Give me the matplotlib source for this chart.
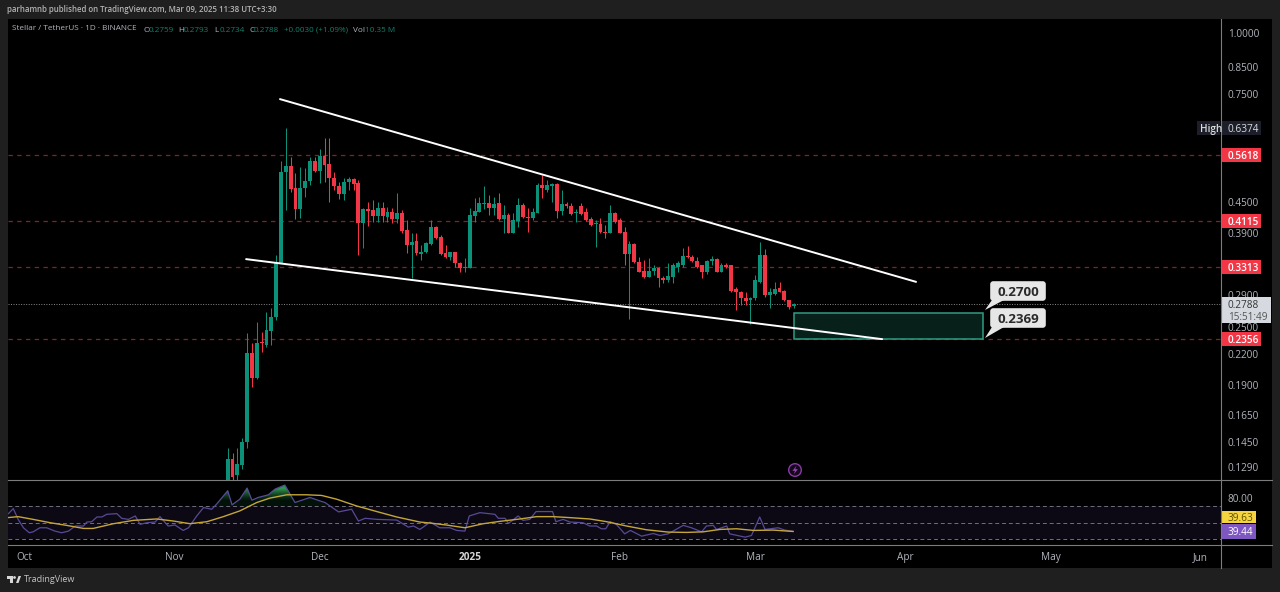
import numpy as np
import matplotlib
matplotlib.use("Agg")
import matplotlib.pyplot as plt
from matplotlib.patches import Rectangle, FancyBboxPatch, Polygon, Circle
from matplotlib.path import Path
from matplotlib.ticker import NullLocator

plt.rcParams['font.family'] = ['Open Sans', 'DejaVu Sans']

# ---------- data ----------
first_candle_day = 42   # days since Oct 1 (Nov 12)
opens = [.121,.134,.124,.130,.145,.221,.196,.233,.2295,.2455,.2622,.338,.519,.534,.481,.436,.481,.498,.546,.522,
         .560,.539,.505,.486,.468,.495,.502,.493,.408,.436,.434,.422,.438,.420,.430,.416,.428,.395,.368,.375,
         .353,.356,.370,.400,.382,.354,.348,.356,.337,.330,.330,.422,.430,.446,.448,.438,.448,.416,.424,.389,
         .412,.444,.420,.418,.428,.488,.477,.486,.491,.432,.446,.442,.428,.442,.430,.416,.406,.406,.391,.389,
         .428,.414,.391,.353,.370,.340,.326,.316,.326,.330,.315,.312,.316,.332,.335,.349,.348,.341,.334,.323,
         .341,.344,.324,.334,.334,.299,.295,.287,.283,.286,.309,.351,.291,.292,.300,.296,.283,.2759]
highs = [.141,.1375,.141,.148,.243,.232,.2555,.244,.2685,.273,.351,.546,.639,.557,.517,.531,.529,.557,.557,.578,
         .609,.609,.519,.495,.505,.507,.505,.500,.438,.451,.455,.451,.451,.440,.438,.470,.434,.414,.389,.389,
         .368,.373,.414,.402,.386,.368,.356,.356,.340,.346,.438,.459,.461,.486,.466,.461,.470,.444,.428,.428,
         .459,.448,.438,.438,.493,.512,.500,.493,.493,.477,.451,.448,.436,.448,.438,.420,.414,.418,.404,.444,
         .430,.418,.400,.375,.372,.348,.343,.346,.335,.332,.318,.338,.338,.341,.363,.366,.351,.348,.335,.343,
         .349,.346,.338,.337,.335,.302,.296,.294,.288,.319,.373,.361,.300,.309,.309,.298,.284,.2793]
lows = [.121,.121,.121,.128,.141,.188,.195,.222,.227,.2295,.258,.338,.434,.472,.416,.418,.461,.488,.519,.493,
        .495,.451,.477,.457,.455,.477,.477,.351,.363,.402,.410,.410,.410,.410,.408,.408,.389,.354,.315,.351,
        .343,.354,.368,.379,.351,.346,.343,.332,.323,.323,.330,.410,.430,.436,.424,.424,.414,.389,.389,.389,
        .400,.418,.391,.414,.428,.459,.472,.451,.418,.424,.438,.424,.410,.424,.412,.402,.365,.389,.380,.389,
        .408,.389,.335,.2595,.338,.323,.314,.316,.319,.302,.308,.309,.308,.323,.332,.346,.340,.330,.315,.321,
        .335,.323,.324,.330,.295,.271,.277,.277,.2535,.284,.308,.288,.273,.290,.294,.282,.272,.2734]
closes = [.134,.123,.131,.145,.221,.196,.232,.232,.2465,.2622,.338,.519,.534,.479,.436,.481,.498,.546,.522,.560,
          .5365,.505,.486,.468,.495,.502,.491,.408,.436,.432,.422,.438,.422,.430,.416,.428,.393,.368,.373,.354,
          .356,.372,.400,.380,.353,.348,.356,.337,.330,.332,.424,.432,.448,.448,.438,.446,.416,.424,.389,.414,
          .444,.420,.418,.430,.488,.481,.488,.491,.432,.446,.442,.426,.430,.426,.414,.404,.408,.391,.389,.428,
          .410,.389,.353,.370,.340,.324,.316,.326,.330,.314,.312,.318,.334,.337,.349,.348,.341,.332,.323,.341,
          .344,.324,.334,.332,.296,.294,.286,.282,.287,.311,.351,.291,.295,.299,.295,.283,.2745,.2788]

rsi_days = [-3.3,-2.3,-1.3,-.2,1,1.8,3.2,4.6,6.3,7.7,9.1,10.5,12.2,12.9,13.9,15,16,17,19.1,20.1,21.5,22.9,23.9,25.3,27,28,
            29.7,31.1,32.8,33.9,35.6,37,38.7,39.7,42,42.9,44.5,46,47,48.3,50.4,51.8,53.8,55.9,59,61,62.1,64.9,67.6,69,
            70.4,72.8,76.9,79.3,80.4,81.7,82.7,83.8,85.8,87.9,89.3,91,91.9,94.1,97.2,97.9,99.3,100,102,103,104.4,105.7,
            109.1,109.8,111.3,112.7,115.4,116.8,118.2,119.2,120.1,121,122.3,124,125.2,127.5,129.9,131.3,133,136.1,137.8,
            139.9,140.9,142.3,143,145.1,145.7,148.9,150.2,151.9,153,155.7,157.1,158.8]
rsi_vals = [60.9,67,54,43.9,37.9,39,43.9,43.9,39.9,37.9,39.9,46,46,50.8,51.2,56.9,56.9,60.1,60.9,55.3,54,58.1,48,50,50.8,57.3,
            46,47.2,40.7,43.9,58.1,68.2,66.2,72.3,88.5,71.5,78.3,91.7,77.1,80.4,83.6,90.5,95.3,74.3,80.4,76.3,74.3,63,66.2,52,
            55.3,54,53.2,44.7,46,41.9,46,50.8,43.9,43.9,40.7,39.9,58.1,62.1,60.1,55.3,55.3,49.2,58.1,52.8,54,63.4,
            63.4,51.2,54,50.8,50,46,46,42.7,42.7,51.2,48,36.6,40.7,33.8,37,34.6,36.6,46.8,43.9,
            39,46,46.8,41.9,46,36.6,32.6,34.6,56.9,41.9,43.9,41.1,39.63]
ma_days = [-3.5,-1.3,1.8,5.3,8.7,12.2,14.2,18.4,22.5,27.3,30.8,34.2,37.7,41.1,44.5,48,50.7,54.2,58.3,61.4,64.5,68.6,72.8,76.9,81.7,
           83.8,87.2,91,94.8,98.2,102.4,105.8,109.2,112.7,116.8,120.3,124.4,128.5,133,136.8,140.2,143.7,147.1,150.6,154.7,158.8]
ma_vals = [56.1,57.3,54,50,46.8,43.1,43.1,48.8,52.8,54.5,52,48.8,51.2,57.3,64.2,74.3,79.6,83.6,83.6,82.8,78.3,70.2,63.4,56.9,50.8,
           49.6,47.2,43.9,48.8,51.6,54.5,57.3,57.3,56.1,54.5,51.2,46,41.5,38.7,38.3,39,41.9,42.7,40.7,41.1,39.44]

price_ticks = [1.0, .85, .75, .45, .39, .29, .25, .22, .19, .165, .145, .129]
level_prices = [.5618, .4115, .3313, .2356]
last_price = .2788
high_price = .6374
upper_line_days = [52.8, 184.2]
upper_line_prices = [.732, .309]
lower_line_days = [45.8, 177.2]
lower_line_prices = [.344, .2358]
zone_days = [159, 198.1]
zone_prices = [.2360, .2668]
month_days = [0, 31, 61, 92, 123, 151, 182, 212, 243]
month_labels = ['Oct', 'Nov', 'Dec', '2025', 'Feb', 'Mar', 'Apr', 'May', 'Jun']

UP, DN = '#0b9079', '#f23645'
TXT = '#b2b5be'
W, H = 1280, 592
FS = 7.2

# ---------- figure ----------
fig = plt.figure(figsize=(W/100, H/100), dpi=100, facecolor='#1f1f1f')
fig.add_artist(Rectangle((8/W, 1-567.5/H), (1271.5-8)/W, (567.5-19)/H, transform=fig.transFigure,
                         facecolor='black', edgecolor='none', zorder=-5))
ax = fig.add_axes([8/W, 1-479.5/H, (1221-8)/W, (479.5-19)/H], facecolor='black')
rs = fig.add_axes([8/W, 1-545.3/H, (1221-8)/W, (545.3-479.5)/H], facecolor='black')
xlim = (-3.39, 247.2)

# ---------- price pane ----------
ax.set_yscale('log')
o, h, l, c = map(np.array, (opens, highs, lows, closes))
days = first_candle_day + np.arange(len(o))
col = np.where(c >= o, UP, DN)
ax.vlines(days, l, h, colors=col, linewidth=0.75, zorder=3)
ax.bar(days, np.maximum(np.abs(c-o), 1e-4), bottom=np.minimum(o, c), width=0.8, color=col, linewidth=0, zorder=4)
for p in level_prices:
    ax.plot(xlim, [p, p], color='#85202d', lw=0.9, dashes=(3.5, 3.5), zorder=1)
ax.plot(xlim, [last_price]*2, color='#8a8a8a', lw=0.7, dashes=(1, 1.6), zorder=1)
ax.plot(upper_line_days, upper_line_prices, color='white', lw=1.4, zorder=5, solid_capstyle='round')
ax.plot(lower_line_days, lower_line_prices, color='white', lw=1.4, zorder=5, solid_capstyle='round')
ax.add_patch(Rectangle((zone_days[0], zone_prices[0]), zone_days[1]-zone_days[0], zone_prices[1]-zone_prices[0],
                       facecolor='#07201a', edgecolor='#2f9c84', lw=1.1, zorder=2))
ax.set_xlim(*xlim)
ax.set_ylim(np.exp(-(479.5-33)/211.9), np.exp((33-19)/211.9))
ax.yaxis.tick_right()
ax.yaxis.set_major_locator(plt.FixedLocator(price_ticks))
ax.yaxis.set_minor_locator(NullLocator())
ax.set_yticklabels([f'{p:.4f}' for p in price_ticks])
ax.tick_params(axis='y', length=0, pad=5, labelsize=FS, labelcolor=TXT)
for t in ax.get_yticklabels():
    t.set_va('center_baseline')
ax.set_xticks([])
for s in ax.spines.values():
    s.set_visible(False)

# ---------- RSI pane ----------
rs.axhspan(30, 70, color='#0c0914', lw=0, zorder=0)
for v in (70, 50, 30):
    rs.plot(xlim, [v, v], color='#6f7079', lw=0.7, dashes=(4, 3), zorder=1)
rd, rv = np.array(rsi_days), np.array(rsi_vals)
poly = rs.fill_between(rd, 70, rv, where=rv > 70, interpolate=True, facecolor='none', edgecolor='none')
grad = np.array([[[0.05, 0.30, 0.15, 0.25]], [[0.20, 0.62, 0.32, 0.95]]])
im = rs.imshow(grad, extent=(rd[0], rd[-1], 70, 97), origin='lower', aspect='auto', interpolation='bilinear', zorder=2)
im.set_clip_path(Path.make_compound_path(*poly.get_paths()), transform=rs.transData)
rs.plot(rd, rv, color='#574a96', lw=0.9, zorder=3)
rs.plot(ma_days, ma_vals, color='#c4a63a', lw=1.0, zorder=4)
rs.set_xlim(*xlim)
rs.set_ylim(22.8, 102)
rs.yaxis.tick_right()
rs.set_yticks([80])
rs.set_yticklabels(['80.00'])
rs.tick_params(axis='y', length=0, pad=5, labelsize=FS, labelcolor=TXT)
rs.set_xticks(month_days)
rs.set_xticklabels(month_labels)
rs.tick_params(axis='x', length=0, pad=5, labelsize=FS, labelcolor=TXT)
rs.get_xticklabels()[3].set_fontweight('bold')
rs.get_xticklabels()[3].set_color('#d6d6d6')
for s in rs.spines.values():
    s.set_visible(False)

# ---------- overlay in screen pixels for the platform chrome ----------
ov = fig.add_axes([0, 0, 1, 1], facecolor='none', zorder=10)
ov.set_xlim(0, W)
ov.set_ylim(H, 0)
ov.axis('off')

def ypx(p):
    return H - ax.transData.transform((0, p))[1]

ov.plot([1221, 1221], [19, 567.5], color='#7c7c7c', lw=0.8)
ov.plot([8, 1271.5], [479.5, 479.5], color='#7c7c7c', lw=0.8)
ov.plot([8, 1271.5], [545.3, 545.3], color='#7c7c7c', lw=0.8)

def tag(x0, x1, yc, hh, fc, txt, tc, dx=6, **kw):
    ov.add_patch(Rectangle((x0, yc-hh/2), x1-x0, hh, facecolor=fc, edgecolor='none'))
    ov.text(x0+dx, yc, txt, color=tc, fontsize=FS, va='center_baseline', ha='left', **kw)

for p in level_prices:
    tag(1222, 1261, ypx(p), 14, '#f23645', f'{p:.4f}', 'white', fontweight='semibold')
tag(1222, 1261, ypx(high_price), 14, '#1c1f2a', f'{high_price:.4f}', '#dcdcdc')
tag(1197, 1220, ypx(high_price), 14, '#1c1f2a', 'High', '#dcdcdc', dx=3, fontweight='semibold')

ov.add_patch(Rectangle((1222, 297), 48.5, 25.7, facecolor='#d6d9e0', edgecolor='none'))
ov.text(1228, 304.5, f'{last_price:.4f}', color='#333', fontsize=FS, va='center_baseline')
ov.text(1228, 315.5, '15:51:49', color='#555', fontsize=FS, va='center_baseline')

tag(1222, 1256, 517, 12.6, '#f5d43f', '39.63', '#5f5200')
tag(1222, 1256, 531, 15, '#7e57c2', '39.44', 'white')

# callouts
for (y0, y1, tail, txt) in [(281, 301, 310, '0.2700'), (308, 328, 338, '0.2369')]:
    ov.add_patch(Polygon([(992, y1-1), (1004, y1-1), (985, tail)], facecolor='#e6e6e6', edgecolor='none'))
    ov.add_patch(FancyBboxPatch((992, y0+2), 52, y1-y0-4, boxstyle='round,pad=1.8,rounding_size=3',
                                facecolor='#e6e6e6', edgecolor='none'))
    ov.text(1018, (y0+y1)/2, txt, color='#2a2a2a', fontsize=9.6, fontweight='bold', ha='center', va='center_baseline')

# alert icon
ov.add_patch(Circle((795, 470), 6.3, facecolor='#150a1c', edgecolor='#8a3aa6', lw=1.0))
ov.add_patch(Polygon([(796.5, 465.8), (792.5, 470.8), (795, 470.8), (793.8, 474.2), (797.8, 469.2), (795.2, 469.2)],
                     facecolor='#9a45b8', edgecolor='none'))

# header
ov.text(7, 10, 'parhamnb published on TradingView.com, Mar 09, 2025 11:38 UTC+3:30', color='#b4b4b4',
        fontsize=5.7, va='center', fontweight='semibold')
ov.text(12, 29, 'Stellar / TetherUS \u00b7 1D \u00b7 BINANCE', color=TXT, fontsize=5.85, va='center')
GV = '#12806b'
for x, t, cc in [(143, 'O', TXT), (149, '0.2759', GV), (178, 'H', TXT), (184, '0.2793', GV), (214, 'L', TXT), (220, '0.2734', GV),
                 (249, 'C', TXT), (254, '0.2788', GV), (284, '+0.0030 (+1.09%)', GV), (353, 'Vol', TXT), (365, '10.35 M', GV)]:
    ov.text(x, 29, t, color=cc, fontsize=5.85, va='center_baseline')

# footer logo
ov.add_patch(Polygon([(7, 576), (13, 576), (13, 583), (10, 583), (10, 579), (7, 579)], facecolor='#d8d8d8', edgecolor='none'))
ov.add_patch(Circle((14.5, 577.5), 1.4, facecolor='#d8d8d8', edgecolor='none'))
ov.add_patch(Polygon([(16, 583), (18.5, 576), (21, 576), (18.5, 583)], facecolor='#d8d8d8', edgecolor='none'))
ov.text(23.5, 579.5, 'TradingView', color='#c4c4c4', fontsize=6.5, va='center')

fig.savefig('out.png', dpi=100, facecolor=fig.get_facecolor())
